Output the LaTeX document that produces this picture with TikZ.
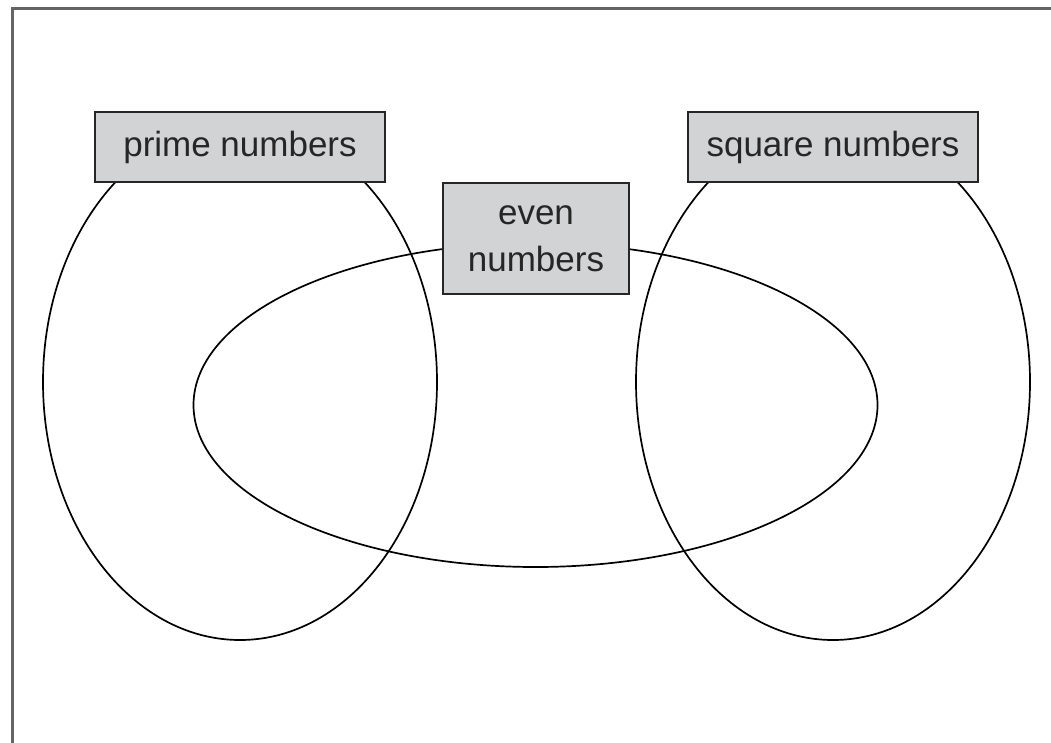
\documentclass[tikz,border=0pt]{standalone}
\usepackage{fontspec}
\setmainfont{Liberation Sans}
\definecolor{boxgray}{RGB}{210,211,213}
\definecolor{framegray}{RGB}{100,100,100}
\begin{document}
\begin{tikzpicture}[x=1pt,y=-1pt,
  setbox/.style={draw=black!85, line width=2.6pt, fill=boxgray, inner sep=0pt, align=center,
    font=\fontsize{35}{47}\selectfont, text=black!85},
  setline/.style={draw=black, line width=1.7pt}]
\useasboundingbox (0,0) rectangle (1051,742);
\fill[white] (0,0) rectangle (1051,742);
% frame
\coordinate (fbl) at (12,745);
\coordinate (ftl) at (12,8);
\coordinate (ftr) at (1055,8);
\draw[framegray, line width=3pt] (fbl) -- (ftl) -- (ftr);
% set outlines
\draw[setline] (240,382) ellipse [x radius=197, y radius=258];
\draw[setline] (833,382) ellipse [x radius=197, y radius=258];
\draw[setline] (535.5,405) ellipse [x radius=342, y radius=162];
% labels
\node[setbox, minimum width=290, minimum height=70] (prime) at (240,147) {prime numbers};
\node[setbox, minimum width=290, minimum height=70] (square) at (833,147) {square numbers};
\node[setbox, minimum width=186, minimum height=111] (even) at (536,238.5) {even\\numbers};
\end{tikzpicture}
\end{document}
